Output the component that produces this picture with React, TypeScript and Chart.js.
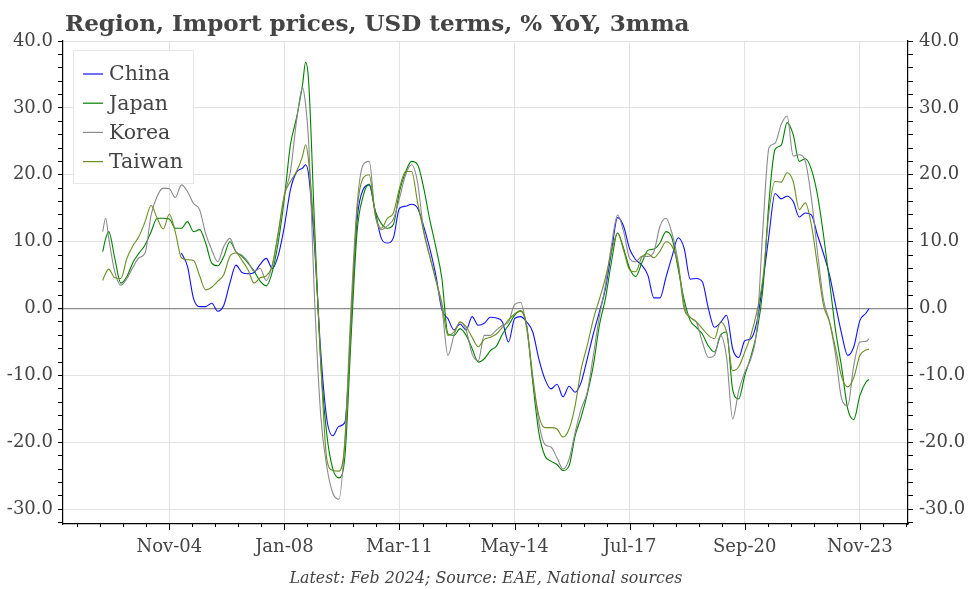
import { useEffect, useRef } from "react";
import { Chart, registerables } from "chart.js";

Chart.register(...registerables);

const sampleMonths: string[] = [
  "2003-01", "2003-02", "2003-03", "2003-05", "2003-07", "2003-09", "2003-11",
  "2004-01", "2004-03", "2004-05", "2004-07", "2004-09", "2004-11",
  "2005-01", "2005-03", "2005-05", "2005-07", "2005-09", "2005-11",
  "2006-01", "2006-03", "2006-05", "2006-07", "2006-09", "2006-11",
  "2007-01", "2007-03", "2007-05", "2007-07", "2007-09", "2007-11",
  "2008-01", "2008-03", "2008-05", "2008-07", "2008-08", "2008-09", "2008-11",
  "2009-01", "2009-03", "2009-05", "2009-07", "2009-09", "2009-11",
  "2010-01", "2010-03", "2010-05", "2010-07", "2010-09", "2010-11",
  "2011-01", "2011-03", "2011-05", "2011-07", "2011-09", "2011-11",
  "2012-01", "2012-03", "2012-05", "2012-07", "2012-09", "2012-11",
  "2013-01", "2013-03", "2013-05", "2013-07", "2013-09", "2013-11",
  "2014-01", "2014-03", "2014-05", "2014-07", "2014-09", "2014-11",
  "2015-01", "2015-03", "2015-05", "2015-07", "2015-09", "2015-11",
  "2016-01", "2016-03", "2016-05", "2016-07", "2016-09", "2016-11",
  "2017-01", "2017-03", "2017-05", "2017-07", "2017-09", "2017-11",
  "2018-01", "2018-03", "2018-05", "2018-07", "2018-09", "2018-11",
  "2019-01", "2019-03", "2019-05", "2019-07", "2019-09", "2019-11",
  "2020-01", "2020-03", "2020-05", "2020-07", "2020-09", "2020-11",
  "2021-01", "2021-03", "2021-05", "2021-07", "2021-09", "2021-11",
  "2022-01", "2022-03", "2022-05", "2022-07", "2022-09", "2022-11",
  "2023-01", "2023-03", "2023-05", "2023-07", "2023-09", "2023-11",
  "2024-01", "2024-02",
];

const china: (number | null)[] = [
  null, null, null, null, null, null, null,
  null, null, null, null, null, null,
  null, 8.3, 6.3, 1.5, 0.3, 0.3,
  0.8, -0.4, 0.5, 3.8, 6.5, 5.4,
  5.2, 5.4, 6.6, 7.5, 6.0, 8.0,
  12.3, 17.8, 20.4, 21.0, 21.5, 20.0, 9.0,
  -6.5, -16.5, -19.0, -17.6, -17.0, -2.0,
  13.3, 17.8, 18.5, 14.5, 10.5, 9.8,
  10.6, 15.0, 15.3, 15.6, 15.0, 12.3,
  9.0, 5.0, -0.2, -1.5, -3.2, -2.3,
  -3.2, -1.2, -2.5, -2.2, -1.3, -1.4,
  -2.0, -5.0, -1.5, -1.2, -2.0, -3.5,
  -7.5, -10.5, -12.0, -11.3, -13.2, -11.6,
  -12.5, -11.0, -7.5, -3.8, -0.5, 3.0,
  8.5, 13.6, 12.3, 8.9, 7.3, 6.5,
  5.0, 1.6, 1.6, 4.7, 7.8, 10.6,
  9.0, 4.4, 4.5, 4.0, 0.0, -2.8,
  -2.1, -1.0, -6.0, -7.3, -4.8, -4.5,
  -2.0, 4.0, 11.0, 17.2, 16.4, 16.8,
  16.0, 13.7, 14.3, 14.0, 11.0, 8.2,
  5.0, 0.5, -3.8, -7.0, -5.7, -1.8,
  -0.7, 0.0,
];

const japan: number[] = [
  8.5, 10.5, 11.5, 7.5, 3.8, 4.8, 6.9,
  8.3, 9.5, 11.5, 13.5, 13.5, 13.4,
  12.0, 12.0, 13.0, 11.5, 11.8, 9.8,
  6.8, 6.4, 7.8, 10.0, 8.5, 7.8,
  6.8, 5.6, 4.1, 3.4, 5.5, 10.0,
  16.5, 24.5, 28.5, 33.5, 36.8, 34.0, 12.0,
  -8.0, -18.8, -24.0, -25.3, -22.0, -4.5,
  11.5, 16.8, 18.6, 14.6, 12.7, 12.0,
  12.6, 17.5, 20.4, 22.0, 21.5, 18.0,
  13.3, 9.2, 4.5, -3.8, -4.0, -3.0,
  -4.0, -6.0, -8.0, -7.5, -6.3, -5.6,
  -3.8, -2.5, -1.0, -0.4, -2.7, -11.0,
  -18.5, -22.0, -22.8, -23.3, -24.2, -23.5,
  -19.0, -16.2, -12.8, -8.5, -2.5, 1.5,
  7.0, 11.3, 9.0, 6.0, 4.8, 6.8,
  8.7, 8.9, 9.8, 11.5, 10.5, 6.0,
  1.3, -1.8, -2.8, -3.8, -5.6, -6.5,
  -4.0, -3.5, -12.1, -13.5, -10.0, -7.2,
  -3.5, 3.0, 16.0, 23.8, 24.4, 27.8,
  26.0, 22.0, 22.4, 20.8, 17.0, 11.0,
  4.0, -3.3, -8.8, -15.0, -16.6, -13.0,
  -11.0, -10.6,
];

const korea: number[] = [
  11.5, 13.5, 10.5, 5.5, 3.5, 4.5, 6.2,
  7.6, 8.3, 14.0, 16.8, 18.0, 17.9,
  16.6, 18.5, 17.5, 15.7, 14.8, 11.2,
  8.8, 7.0, 9.3, 10.5, 8.5, 8.0,
  7.0, 5.6, 6.0, 4.2, 6.5, 11.2,
  17.0, 20.5, 28.0, 33.0, 30.5, 25.0, 1.0,
  -16.0, -23.6, -27.6, -28.5, -19.3, 0.2,
  15.5, 21.5, 22.0, 14.0, 11.8, 12.4,
  13.4, 16.5, 20.0, 21.5, 18.8, 11.5,
  7.8, 4.3, 0.2, -7.0, -4.0, -2.0,
  -3.2, -6.8, -7.8, -4.0, -4.0, -3.2,
  -2.5, -2.0, 0.6, 0.9, -3.0, -10.0,
  -17.0, -20.3, -20.7, -22.3, -24.0, -22.5,
  -18.5, -15.0, -12.5, -7.0, -1.2, 3.5,
  9.5, 14.0, 11.5, 7.5, 7.0, 7.8,
  7.8, 8.5, 12.3, 13.5, 11.2, 7.0,
  0.5, -1.3, -2.0, -5.0, -7.3, -7.0,
  -4.0, -7.3, -16.5, -12.3, -9.5, -7.5,
  -3.0, 12.0, 24.0, 24.7, 27.5, 28.8,
  22.8, 23.0, 22.0, 16.5, 8.5, 1.3,
  -2.0, -7.0, -13.5, -14.5, -8.5, -5.0,
  -4.9, -4.5,
];

const taiwan: number[] = [
  4.2, 5.3, 5.9, 4.6, 4.5, 7.5, 9.4,
  10.8, 13.0, 15.4, 13.5, 11.9, 14.1,
  11.4, 7.6, 7.3, 7.2, 4.9, 2.8,
  3.2, 4.1, 5.1, 7.8, 8.3, 7.2,
  5.8, 3.8, 4.6, 4.9, 6.5, 11.5,
  17.0, 19.0, 20.5, 22.8, 24.5, 22.0, 10.0,
  -8.0, -22.5, -24.2, -24.3, -20.0, -2.0,
  14.5, 19.5, 20.0, 14.0, 12.0, 13.5,
  14.3, 18.0, 20.5, 20.5, 15.8, 11.5,
  7.8, 4.3, 0.8, -4.0, -3.5, -2.0,
  -2.7, -4.3, -5.7, -4.6, -4.3, -3.8,
  -2.8, -1.7, -0.8, -0.3, -2.5, -10.5,
  -16.0, -17.8, -17.8, -18.0, -19.2, -18.0,
  -14.5, -9.0, -5.5, -1.6, 1.4, 4.6,
  8.5, 11.3, 8.7, 5.8, 5.5, 7.7,
  8.2, 7.6, 8.6, 10.0, 9.3, 6.5,
  0.0, -1.3, -2.0, -3.0, -4.0, -4.5,
  -2.0, -3.5, -9.3, -8.7, -6.5, -4.0,
  -0.5, 4.5, 14.5, 19.0, 18.9, 20.3,
  19.0, 14.8, 15.8, 12.5, 6.5, 0.5,
  -2.0, -6.0, -10.2, -11.7, -10.3, -7.0,
  -6.2, -6.1,
];

const seriesNames = ["China", "Japan", "Korea", "Taiwan"];
const seriesColors = ["#1010ff", "#008000", "#8a8a8a", "#6b8e23"];

const xTickLabels = ["Nov-04", "Jan-08", "Mar-11", "May-14", "Jul-17", "Sep-20", "Nov-23"];
const xTickMonths = ["2004-11", "2008-01", "2011-03", "2014-05", "2017-07", "2020-09", "2023-11"];
const yTickValues = [
  -32, -30, -28, -26, -24, -22, -20, -18, -16, -14, -12, -10, -8, -6, -4, -2, 0,
  2, 4, 6, 8, 10, 12, 14, 16, 18, 20, 22, 24, 26, 28, 30, 32, 34, 36, 38, 40,
];

const TITLE = "Region, Import prices, USD terms, % YoY, 3mma";
const FOOTER = "Latest: Feb 2024; Source: EAE, National sources";
const FONT = "'DejaVu Serif', 'Liberation Serif', serif";
const TEXT_COLOR = "#444444";

function monthIndex(s: string): number {
  const [y, m] = s.split("-").map(Number);
  return (y - 2000) * 12 + (m - 1);
}

const majorMonths = xTickMonths.map(monthIndex);
const minorStep = (majorMonths[1] - majorMonths[0]) / 5;
const X_MIN = 22.9;
const X_MAX = 301.9;

function buildXTicks(): number[] {
  const out: number[] = [];
  for (let k = -10; k <= 40; k++) {
    const v = majorMonths[0] + k * minorStep;
    if (v >= X_MIN - 1e-6 && v <= X_MAX + 1e-6) out.push(Math.round(v * 1000) / 1000);
  }
  return out;
}
const xTickValues = buildXTicks();

function majorLabel(v: number): string {
  const i = majorMonths.findIndex((m) => Math.abs(m - v) < 0.01);
  return i >= 0 ? xTickLabels[i] : "";
}

function fitFontSize(ctx: CanvasRenderingContext2D, text: string, style: string, target: number): number {
  ctx.font = `${style} 20px ${FONT}`;
  const w = ctx.measureText(text).width;
  return (20 * target) / w;
}

const decorPlugin = {
  id: "decor",
  beforeDraw(chart: any) {
    const { ctx, width, height } = chart;
    ctx.save();
    ctx.fillStyle = "#ffffff";
    ctx.fillRect(0, 0, width, height);
    ctx.restore();
  },
  afterDraw(chart: any) {
    const ctx: CanvasRenderingContext2D = chart.ctx;
    const area = chart.chartArea;
    const xs = chart.scales.x;
    ctx.save();
    // x tick marks
    ctx.strokeStyle = "#000";
    ctx.lineWidth = 1;
    for (const t of xs.ticks) {
      const px = Math.round(xs.getPixelForValue(t.value)) + 0.5;
      const len = majorLabel(t.value) ? 6 : 3;
      ctx.beginPath();
      ctx.moveTo(px, area.bottom);
      ctx.lineTo(px, area.bottom + len);
      ctx.stroke();
    }
    // title
    const ts = fitFontSize(ctx, TITLE, "bold", 625);
    ctx.font = `bold ${ts}px ${FONT}`;
    ctx.fillStyle = TEXT_COLOR;
    ctx.textAlign = "left";
    ctx.textBaseline = "alphabetic";
    ctx.fillText(TITLE, 65, 30.5);
    // footer
    const fs = fitFontSize(ctx, FOOTER, "italic", 393);
    ctx.font = `italic ${fs}px ${FONT}`;
    ctx.textAlign = "center";
    ctx.fillText(FOOTER, 486, 582.5);
    // legend
    const bx = 73.5, by = 50.5, bw = 120, bh = 133;
    ctx.fillStyle = "#ffffff";
    ctx.fillRect(bx, by, bw, bh);
    ctx.strokeStyle = "#e8e8e8";
    ctx.lineWidth = 1;
    ctx.strokeRect(bx, by, bw, bh);
    ctx.textAlign = "left";
    ctx.textBaseline = "middle";
    ctx.font = `20.5px ${FONT}`;
    seriesNames.forEach((name, i) => {
      const y = 74 + i * 29.2;
      ctx.strokeStyle = seriesColors[i];
      ctx.lineWidth = 1.2;
      ctx.beginPath();
      ctx.moveTo(83, y);
      ctx.lineTo(103, y);
      ctx.stroke();
      ctx.fillStyle = TEXT_COLOR;
      ctx.fillText(name, 109, y + 1);
    });
    ctx.restore();
  },
};

function yGridColor(v: number): string {
  if (Math.abs(v) < 1e-9) return "#8c8c8c";
  if (Math.abs(v % 10) < 1e-9) return "#e2e2e2";
  return "rgba(0,0,0,0)";
}

export default function App() {
  const ref = useRef<HTMLCanvasElement | null>(null);
  useEffect(() => {
    document.body.style.margin = "0";
    if (!ref.current) return;
    const xs = sampleMonths.map(monthIndex);
    const all = [china, japan, korea, taiwan];
    const orders = [4, 3, 2, 1];
    const datasets = all.map((vals, i) => ({
      label: seriesNames[i],
      data: xs.map((x, j) => ({ x, y: vals[j] })),
      borderColor: seriesColors[i],
      backgroundColor: seriesColors[i],
      borderWidth: 1.1,
      pointRadius: 0,
      cubicInterpolationMode: "monotone" as const,
      spanGaps: false,
      order: orders[i],
    }));
    const yTickCfg = {
      callback: (v: any) => (Math.abs(Number(v) % 10) < 1e-9 ? Number(v).toFixed(1) : ""),
      font: { family: FONT, size: 18 },
      color: TEXT_COLOR,
      autoSkip: false,
    };
    const chart = new Chart(ref.current, {
      type: "line",
      data: { datasets: datasets as any },
      plugins: [decorPlugin],
      options: {
        animation: false,
        responsive: false,
        devicePixelRatio: 1,
        layout: { padding: { top: 41, left: 0, right: 0, bottom: 0 } },
        plugins: { legend: { display: false }, tooltip: { enabled: false }, title: { display: false } },
        scales: {
          x: {
            type: "linear",
            min: X_MIN,
            max: X_MAX,
            afterBuildTicks: (s: any) => {
              s.ticks = xTickValues.map((v) => ({ value: v }));
            },
            afterFit: (s: any) => {
              s.height = 65;
            },
            grid: {
              color: (c: any) => (c.tick && majorLabel(c.tick.value) ? "#e2e2e2" : "rgba(0,0,0,0)"),
              drawTicks: false,
            },
            border: { color: "#000", width: 1.2 },
            ticks: {
              callback: (v: any) => majorLabel(Number(v)),
              font: { family: FONT, size: 18 },
              color: TEXT_COLOR,
              autoSkip: false,
              maxRotation: 0,
              padding: 13,
            },
          },
          y: {
            type: "linear",
            position: "left",
            min: -32.2,
            max: 40,
            afterBuildTicks: (s: any) => {
              s.ticks = yTickValues.map((v) => ({ value: v }));
            },
            afterFit: (s: any) => {
              s.width = 63;
            },
            grid: {
              color: (c: any) => (c.tick ? yGridColor(c.tick.value) : "rgba(0,0,0,0)"),
              lineWidth: (c: any) => (c.tick && Math.abs(c.tick.value) < 1e-9 ? 1.2 : 1),
              tickColor: "#000",
              tickLength: 5,
            },
            border: { color: "#000", width: 1.2 },
            ticks: { ...yTickCfg, padding: 5 },
          },
          y2: {
            type: "linear",
            position: "right",
            min: -32.2,
            max: 40,
            afterBuildTicks: (s: any) => {
              s.ticks = yTickValues.map((v) => ({ value: v }));
            },
            afterFit: (s: any) => {
              s.width = 64;
            },
            grid: { drawOnChartArea: false, tickColor: "#000", tickLength: 5 },
            border: { color: "#000", width: 1.2 },
            ticks: { ...yTickCfg, padding: 6 },
          },
        },
      } as any,
    });
    return () => chart.destroy();
  }, []);
  return (
    <div style={{ position: "absolute", left: 0, top: 0, width: 972, height: 589 }}>
      <canvas ref={ref} width={972} height={589} />
    </div>
  );
}
